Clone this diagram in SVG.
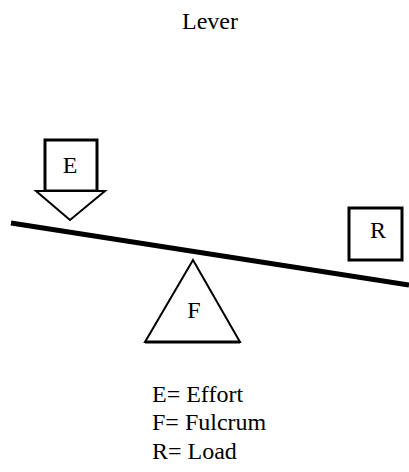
<svg xmlns="http://www.w3.org/2000/svg" width="409" height="472" viewBox="0 0 409 472">
<style>
text{font-family:'Liberation Serif','Times New Roman','DejaVu Serif',serif;font-size:24px;fill:#000}
.c{text-anchor:middle}
.box{fill:#fff;stroke:#000;stroke-width:3}
.tri{fill:#fff;stroke:#000;stroke-width:2}
</style>
<rect width="409" height="472" fill="#fff"/>
<text class="c" x="210" y="29">Lever</text>
<g id="connectors">
<line x1="11" y1="223" x2="409" y2="285" stroke="#000" stroke-width="5"/>
</g>
<g id="effort">
<rect class="box" x="45" y="140" width="52" height="51"/>
<polygon class="tri" points="36,191 105,191 70,220"/>
<text class="c" x="70" y="173">E</text>
</g>
<g id="fulcrum">
<polygon class="tri" points="193,260 240,342 145,342"/>
<line x1="145" y1="342" x2="240" y2="342" stroke="#000" stroke-width="3"/>
<text class="c" x="194" y="318">F</text>
</g>
<g id="load">
<rect class="box" x="349" y="208" width="53" height="52"/>
<text class="c" x="378" y="238">R</text>
</g>
<g id="legend">
<text x="152" y="402">E= Effort</text>
<text x="152" y="430">F= Fulcrum</text>
<text x="152" y="459">R= Load</text>
</g>
</svg>
